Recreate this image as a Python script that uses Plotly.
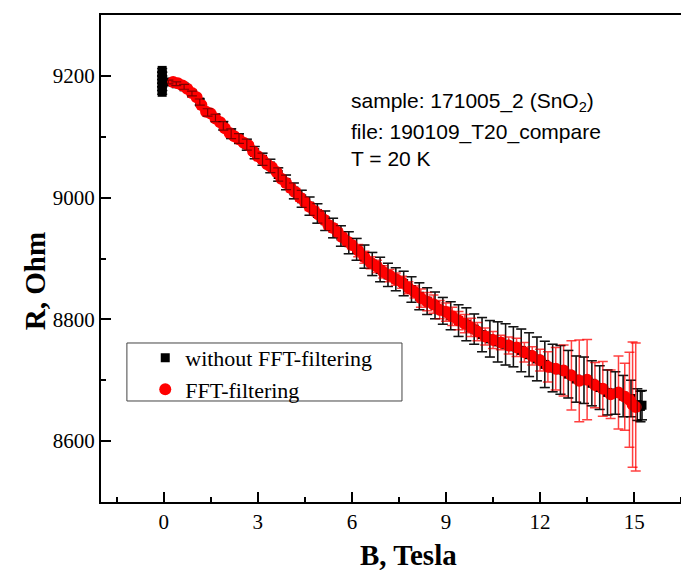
import plotly.graph_objects as go

# ---- data: without FFT-filtering (black squares) ----
B_raw = [-0.05, -0.05, -0.05, -0.05, -0.05, -0.05, -0.05,
         0.15, 0.40, 0.65, 0.90, 1.15, 1.40, 1.65, 1.90, 2.15, 2.40,
         2.65, 2.90, 3.15, 3.40, 3.65, 3.90, 4.15, 4.40, 4.65, 4.90,
         5.15, 5.40, 5.65, 5.90, 6.15, 6.40, 6.65, 6.90, 7.15, 7.40,
         7.65, 7.90, 8.15, 8.40, 8.65, 8.90, 9.15, 9.40, 9.65, 9.90,
         10.15, 10.40, 10.65, 10.90, 11.15, 11.40, 11.65, 11.90, 12.15, 12.40,
         12.65, 12.90, 13.15, 13.40, 13.65, 13.90, 14.15, 14.40, 14.65, 14.90,
         15.10, 15.20, 15.25]
R_raw = [9173, 9179, 9185, 9191, 9197, 9203, 9209,
         9190, 9187, 9182, 9171, 9157, 9140, 9131, 9118, 9105, 9097,
         9087, 9074, 9063, 9052, 9038, 9025, 9011, 8998, 8986, 8974,
         8962, 8950, 8937, 8926, 8915, 8903, 8891, 8882, 8873, 8866,
         8859, 8849, 8838, 8830, 8823, 8814, 8806, 8798, 8792, 8784,
         8775, 8768, 8763, 8759, 8755, 8749, 8742, 8735, 8726, 8720,
         8717, 8710, 8702, 8700, 8695, 8688, 8680, 8679, 8674, 8670,
         8660, 8657, 8659]
dR_raw = [3, 3, 3, 3, 3, 3, 3,
          3, 3, 4, 4, 5, 6, 6, 7, 8, 8,
          9, 10, 10, 11, 11, 12, 13, 14, 15, 16,
          16, 16, 17, 18, 18, 19, 19, 20, 19, 19,
          20, 21, 22, 22, 22, 22, 23, 26, 27, 25,
          28, 30, 33, 34, 33, 35, 36, 36, 38, 39,
          40, 39, 38, 38, 37, 36, 37, 35, 34, 30,
          26, 25, 24]

# ---- data: FFT-filtering (red circles) ----
B_fft = [0.30, 0.45, 0.60, 0.75, 0.90, 1.05, 1.20, 1.35, 1.50, 1.65,
         1.80, 1.95, 2.10, 2.25, 2.40, 2.55, 2.70, 2.85, 3.00, 3.15,
         3.30, 3.45, 3.60, 3.75, 3.90, 4.05, 4.20, 4.35, 4.50, 4.65,
         4.80, 4.95, 5.10, 5.25, 5.40, 5.55, 5.70, 5.85, 6.00,
         6.20, 6.40, 6.60, 6.80, 7.00, 7.20, 7.40, 7.60, 7.80, 8.00,
         8.20, 8.40, 8.60, 8.80, 9.00, 9.20, 9.40, 9.60, 9.80, 10.00,
         10.25, 10.50, 10.75, 11.00, 11.25, 11.50, 11.75, 12.00,
         12.25, 12.50, 12.75, 13.00, 13.25, 13.50, 13.75, 14.00, 14.25, 14.50,
         14.70, 14.85, 14.95, 15.05]
R_fft = [9190, 9188, 9184, 9179, 9172, 9165, 9152, 9141, 9138, 9130,
         9124, 9114, 9106, 9101, 9096, 9090, 9086, 9076, 9068, 9062,
         9055, 9050, 9042, 9031, 9024, 9016, 9009, 9000, 8993, 8985,
         8978, 8972, 8964, 8955, 8950, 8943, 8935, 8928, 8922,
         8913, 8902, 8893, 8887, 8878, 8872, 8866, 8861, 8852, 8845,
         8835, 8829, 8825, 8816, 8812, 8805, 8798, 8793, 8787, 8780,
         8772, 8766, 8762, 8757, 8754, 8746, 8740, 8733,
         8722, 8719, 8716, 8708, 8699, 8701, 8692, 8686, 8677, 8680,
         8673, 8668, 8660, 8656]
dR_fft = [3, 3, 3, 3, 3, 3, 3, 3, 3, 3,
          3, 3, 4, 4, 4, 4, 4, 4, 4, 4,
          4, 4, 4, 4, 4, 6, 6, 6, 6, 6,
          6, 6, 6, 6, 6, 6, 6, 6, 6,
          10, 10, 10, 10, 10, 10, 10, 10, 10, 10,
          15, 15, 15, 15, 15, 15, 15, 15, 15, 15,
          14, 14, 12, 14, 15, 16, 15, 18,
          25, 35, 42, 57, 67, 66, 37, 45, 40, 60,
          55, 78, 103, 105]

x_ticks = [0, 3, 6, 9, 12, 15]
y_ticks = [8600, 8800, 9000, 9200]
info_lines = ["sample: 171005_2 (SnO<sub>2</sub>)",
              "file: 190109_T20_compare",
              "T = 20 K"]
x_title = "<b>B, Tesla</b>"
y_title = "<b>R, Ohm</b>"

SERIF = "Liberation Serif"
SANS = "Liberation Sans"

fig = go.Figure()
fig.add_trace(go.Scatter(
    x=B_raw, y=R_raw, mode="markers", name="without FFT-filtering",
    marker=dict(symbol="square", size=9, color="black", line=dict(width=0)),
    error_y=dict(type="data", array=dR_raw, visible=True,
                 color="rgba(0,0,0,0.85)", thickness=1.5, width=5),
))
fig.add_trace(go.Scatter(
    x=B_fft, y=R_fft, mode="markers", name="FFT-filtering",
    marker=dict(symbol="circle", size=12, color="red", line=dict(width=0)),
    error_y=dict(type="data", array=dR_fft, visible=True,
                 color="rgba(255,0,0,0.75)", thickness=1.5, width=5),
))
# black error bars drawn over the red band
fig.add_trace(go.Scatter(
    x=B_raw, y=R_raw, mode="markers", showlegend=False, hoverinfo="skip",
    marker=dict(size=1, color="rgba(0,0,0,0)"),
    error_y=dict(type="data", array=dR_raw, visible=True,
                 color="rgba(0,0,0,0.5)", thickness=1.2, width=5),
))

for t, yy in zip(info_lines, [0.8215, 0.7597, 0.7063]):
    fig.add_annotation(x=0.4170, y=yy, xref="paper", yref="paper",
                       text=t, showarrow=False, xanchor="left", yanchor="middle",
                       font=dict(family=SANS, size=21, color="black"))

# axis titles (positioned like the original, which is offset from the plot centre)
fig.add_annotation(x=0.5175, y=-0.1085, xref="paper", yref="paper", text=x_title,
                   showarrow=False, xanchor="center", yanchor="middle",
                   font=dict(family=SERIF, size=29, color="black"))
fig.add_annotation(x=-0.1107, y=0.4538, xref="paper", yref="paper", text=y_title,
                   showarrow=False, xanchor="center", yanchor="middle", textangle=-90,
                   font=dict(family=SERIF, size=29, color="black"))

# legend frame
fig.add_shape(type="rect", xref="paper", yref="paper",
              x0=0.0436, x1=0.5067, y0=0.2074, y1=0.3265,
              line=dict(color="#444", width=1), fillcolor="rgba(0,0,0,0)")

fig.update_layout(
    width=689, height=578,
    margin=dict(l=93, r=0, t=7, b=84),
    paper_bgcolor="white", plot_bgcolor="white",
    showlegend=True,
    legend=dict(x=0.0745, y=0.339, xanchor="left", yanchor="top",
                bgcolor="rgba(0,0,0,0)", borderwidth=0,
                font=dict(family=SERIF, size=22, color="black"),
                itemwidth=30, tracegroupgap=0),
    xaxis=dict(range=[-2, 16.94], tickvals=x_ticks, ticks="inside", ticklen=10, tickwidth=2,
               tickcolor="black", showline=True, linecolor="black", linewidth=2,
               mirror=True, showgrid=False, zeroline=False,
               minor=dict(dtick=1.5, tick0=0, ticks="inside", ticklen=5, tickwidth=2,
                          tickcolor="black", showgrid=False),
               tickfont=dict(family=SERIF, size=21, color="black")),
    yaxis=dict(range=[8500, 9300], tickvals=y_ticks, ticks="inside", ticklen=10, tickwidth=2,
               tickcolor="black", showline=True, linecolor="black", linewidth=2,
               mirror=True, showgrid=False, zeroline=False,
               minor=dict(dtick=100, tick0=8500, ticks="inside", ticklen=5, tickwidth=2,
                          tickcolor="black", showgrid=False),
               tickfont=dict(family=SERIF, size=21, color="black")),
)

fig.write_html("out.html")
